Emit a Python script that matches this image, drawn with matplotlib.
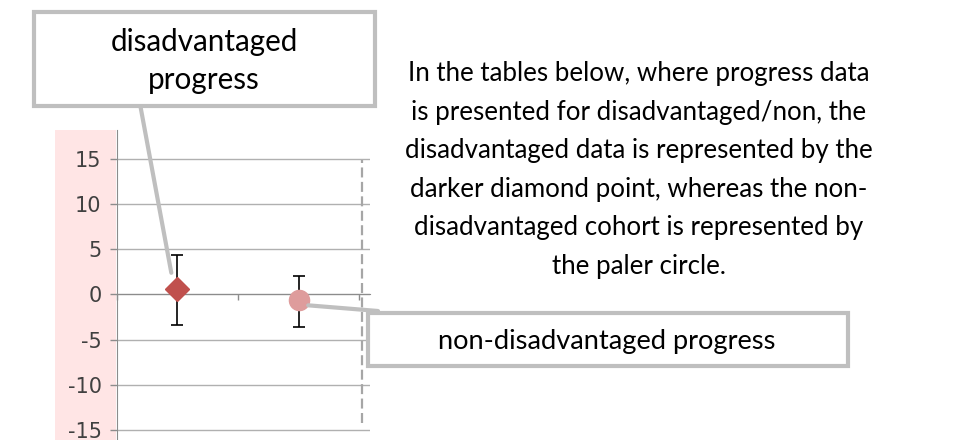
import matplotlib.pyplot as plt
from matplotlib.patches import Rectangle

W, H = 967, 440

# data
groups = ["disadvantaged", "non-disadvantaged"]
x_pos = [0.5, 1.5]
progress = [0.63, -0.66]
err_low = [3.43 + 0.63, 3.62 - 0.66]
err_high = [4.32 - 0.63, 2.03 + 0.66]
y_ticks = [-15, -10, -5, 0, 5, 10, 15]

DARK = "#C0504D"
PALE = "#DE9C9C"
GREY = "#BFBFBF"
FONT = "Lato"

note = ("In the tables below, where progress data\n"
        "is presented for disadvantaged/non, the\n"
        "disadvantaged data is represented by the\n"
        "darker diamond point, whereas the non-\n"
        "disadvantaged cohort is represented by\n"
        "the paler circle.")


def fx(x):
    return x / W


def fy(y):
    return 1 - y / H


fig = plt.figure(figsize=(9.67, 4.4), dpi=100)

# pink band behind the tick labels
fig.add_artist(Rectangle((fx(55), 0), fx(116) - fx(55), fy(130), transform=fig.transFigure,
                         facecolor="#FFE5E5", edgecolor="none", zorder=0))

ax = fig.add_axes([fx(116.8), 0, fx(370) - fx(116.8), fy(130)])
ax.patch.set_alpha(0)
ax.set_xlim(0, 2.09)
ax.set_ylim(-16.11, 18.21)

for s in ["top", "right"]:
    ax.spines[s].set_visible(False)
ax.spines["left"].set_color("#8C8C8C")
ax.spines["bottom"].set_position(("data", 0))
ax.spines["bottom"].set_color("#8C8C8C")

ax.set_yticks(y_ticks)
ax.set_yticklabels([str(t) for t in y_ticks])
ax.tick_params(axis="y", length=5, width=1, color="#8C8C8C", pad=6,
               labelsize=15, labelcolor="#404040")
ax.set_xticks([0, 1, 2])
ax.set_xticklabels([])
ax.tick_params(axis="x", length=4, width=1, color="#8C8C8C")
ax.yaxis.grid(True, color="#B0B0B0", lw=1)
ax.set_axisbelow(True)

ax.axvline(2.02, ymin=0.055, ymax=0.903, color="#A6A6A6", lw=1.6, ls=(0, (4.5, 2)))

ax.errorbar(x_pos[0], progress[0], yerr=[[err_low[0]], [err_high[0]]], fmt="D",
            ms=12.5, color=DARK, ecolor="black", elinewidth=1.2, capsize=4, capthick=1.2, zorder=3)
ax.errorbar(x_pos[1], progress[1], yerr=[[err_low[1]], [err_high[1]]], fmt="o",
            ms=14.5, color=PALE, ecolor="black", elinewidth=1.2, capsize=4, capthick=1.2, zorder=3)

# callout boxes
fig.add_artist(Rectangle((fx(34), fy(106)), fx(375) - fx(34), fy(12) - fy(106),
                         transform=fig.transFigure, facecolor="white", edgecolor=GREY,
                         lw=3, zorder=5))
fig.text(fx(204), fy(61), "disadvantaged\nprogress", ha="center", va="center",
         fontsize=21.3, family=FONT, linespacing=1.45, zorder=6)

fig.add_artist(Rectangle((fx(368), fy(366)), fx(848) - fx(368), fy(313) - fy(366),
                         transform=fig.transFigure, facecolor="white", edgecolor=GREY,
                         lw=3, zorder=5))
fig.text(fx(607), fy(341), "non-disadvantaged progress", ha="center", va="center",
         fontsize=19.6, family=FONT, zorder=6)

# leader lines
ax.annotate("", xy=(0.45, 2.4), xycoords="data", xytext=(140, H - 104),
            textcoords="figure pixels", annotation_clip=False,
            arrowprops=dict(arrowstyle="-", color=GREY, lw=3, shrinkA=0, shrinkB=0), zorder=4)
ax.annotate("", xy=(1.58, -1.2), xycoords="data", xytext=(378, H - 311),
            textcoords="figure pixels", annotation_clip=False,
            arrowprops=dict(arrowstyle="-", color=GREY, lw=3, shrinkA=0, shrinkB=0), zorder=4)

fig.text(fx(639), fy(170), note, ha="center", va="center", fontsize=18.6,
         family=FONT, linespacing=1.68)

fig.savefig("out.png", dpi=100)
